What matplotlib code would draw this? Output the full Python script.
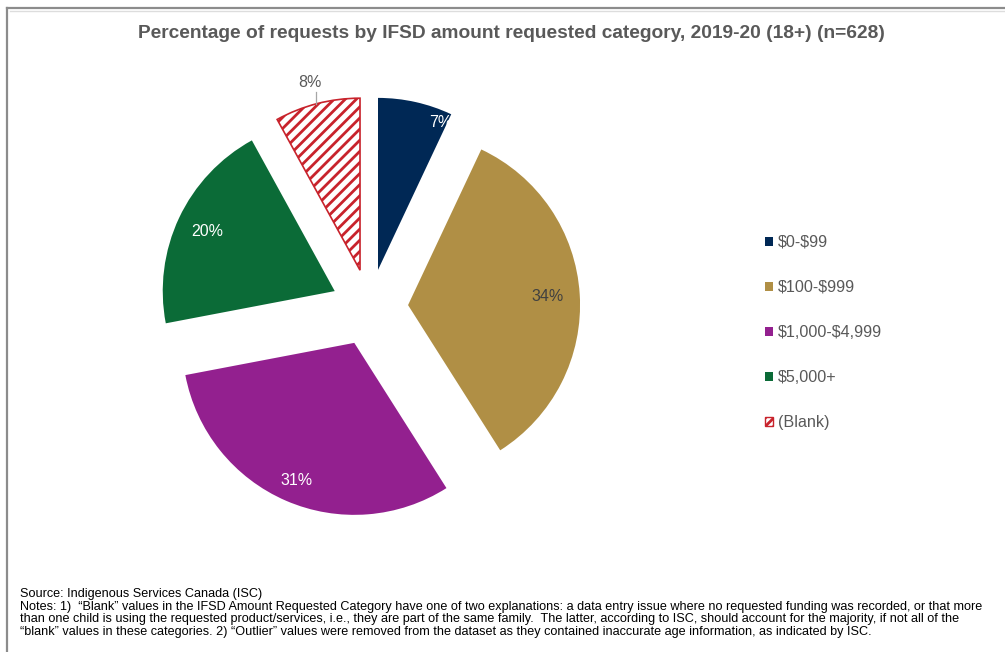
import numpy as np
import matplotlib
matplotlib.use("Agg")
import matplotlib.pyplot as plt
from matplotlib.lines import Line2D
from matplotlib.patches import Patch

plt.rcParams['font.family'] = ['Liberation Sans', 'DejaVu Sans']
plt.rcParams['hatch.linewidth'] = 2.0
plt.rcParams['text.parse_math'] = False

categories = ['$0-$99', '$100-$999', '$1,000-$4,999', '$5,000+', '(Blank)']
percentages = [7, 34, 31, 20, 8]
colors = ['#002855', '#B08F45', '#93208F', '#0B6B37', '#FFFFFF']
label_colors = ['white', '#404040', 'white', 'white', '#595959']

title = 'Percentage of requests by IFSD amount requested category, 2019-20 (18+) (n=628)'
source = 'Source: Indigenous Services Canada (ISC)'
notes = ('Notes: 1)  \u201cBlank\u201d values in the IFSD Amount Requested Category have one of two explanations: a data entry issue where no requested funding was recorded, or that more\n'
         'than one child is using the requested product/services, i.e., they are part of the same family.  The latter, according to ISC, should account for the majority, if not all of the\n'
         '\u201cblank\u201d values in these categories. 2) \u201cOutlier\u201d values were removed from the dataset as they contained inaccurate age information, as indicated by ISC.')

W, H = 1005, 652
fig = plt.figure(figsize=(W / 100, H / 100), dpi=100)

# frame lines (figure pixel coords)
fig.add_artist(Line2D([7 / W, 7 / W], [0, 1 - 8 / H], transform=fig.transFigure, color='#8C8C8C', lw=1.6))
fig.add_artist(Line2D([7 / W, 1], [1 - 8 / H, 1 - 8 / H], transform=fig.transFigure, color='#8C8C8C', lw=1.6))
fig.add_artist(Line2D([9.5 / W, 1], [1 - 10.5 / H, 1 - 10.5 / H], transform=fig.transFigure, color='#DDDDDD', lw=1.0))

# pie axes: 1 unit = 172 px, centre at pixel (369.6, 307.5)
R = 172.0
cx, cy = 369.6, 307.5
half = 300
ax = fig.add_axes([(cx - half) / W, (H - cy - half) / H, 2 * half / W, 2 * half / H])

wedges, texts, autotexts = ax.pie(
    percentages, colors=colors, startangle=90, counterclock=False,
    explode=[0.224] * 5, autopct='%1.0f%%', pctdistance=0.85,
    textprops=dict(fontsize=11.5), wedgeprops=dict(linewidth=0))
ax.set_xlim(-half / R, half / R)
ax.set_ylim(-half / R, half / R)
ax.axis('off')

blank = wedges[4]
blank.set_hatch('///')
blank.set_edgecolor('#C8232C')
blank.set_linewidth(1.2)

# label placement relative to each exploded wedge apex
place = [(0.93, 67.0), (0.815, 3.7), (0.87, -112.8), (0.82, 155.0), (1.13, 104.9)]
for w, t, c, (r, a) in zip(wedges, autotexts, label_colors, place):
    x0, y0 = w.center
    t.set_position((x0 + r * np.cos(np.radians(a)), y0 + r * np.sin(np.radians(a))))
    t.set_color(c)
    t.set_ha('center')
    t.set_va('center')

# leader for the blank label
x0, y0 = blank.center
ax.plot([x0 + np.cos(np.radians(104.9)), x0 + np.cos(np.radians(104.9))],
        [y0 + np.sin(np.radians(104.9)), y0 + np.sin(np.radians(104.9)) + 0.07],
        color='#A6A6A6', lw=0.9)

# legend
handles = [Patch(facecolor=c, edgecolor='none') for c in colors[:4]]
handles.append(Patch(facecolor='white', edgecolor='#C8232C', hatch='////', linewidth=1.0))
fig.legend(handles, categories, loc='upper left', bbox_to_anchor=(765 / W, 1 - 235 / H),
           frameon=False, fontsize=11.6, labelcolor='#595959', handlelength=0.5,
           handleheight=0.5, handletextpad=0.3, labelspacing=1.86, borderpad=0,
           borderaxespad=0)

fig.text(511.5 / W, 1 - 33 / H, title, ha='center', va='center', fontsize=13.8,
         fontweight='bold', color='#595959')
fig.text(20 / W, 1 - 594 / H, source, ha='left', va='center', fontsize=9.1, color='black')
fig.text(20 / W, 1 - 601 / H, notes, ha='left', va='top', fontsize=9.1, color='black',
         linespacing=1.05)

fig.savefig('out.png', dpi=100)
